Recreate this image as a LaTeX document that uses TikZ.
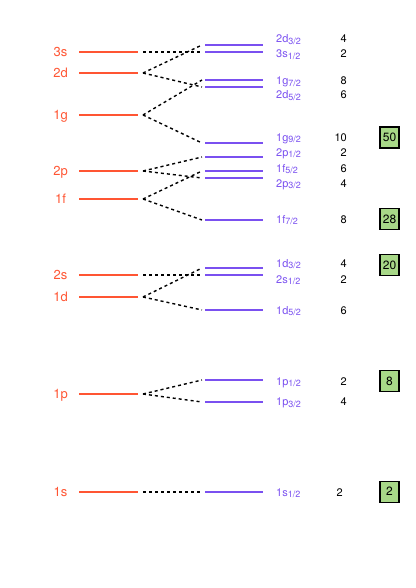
\documentclass[tikz,border=0pt]{standalone}
\usepackage{fontspec}
\setmainfont{TeX Gyre Heros}
\definecolor{ShellRed}{HTML}{FF5533}
\definecolor{ShellBlue}{HTML}{7A50F0}
\definecolor{ShellGreen}{HTML}{A8D888}
\newcommand{\jsub}[1]{\raisebox{-1.3pt}{\fontsize{9}{9}\selectfont #1}}

\begin{document}
\begin{tikzpicture}[x=1pt,y=-1pt,
  redlvl/.style={ShellRed,line width=1.5pt},
  bluelvl/.style={ShellBlue,line width=1.5pt},
  split/.style={black,line width=1.4pt,dash pattern=on 3pt off 3pt},
  redlbl/.style={text=ShellRed,font=\fontsize{13}{13}\selectfont,anchor=base,inner sep=0pt},
  bluelbl/.style={text=ShellBlue,font=\fontsize{11}{11}\selectfont,anchor=base west,inner sep=0pt},
  degen/.style={font=\fontsize{11}{11}\selectfont,anchor=base east,inner sep=0pt},
  magic/.style={draw=black,fill=ShellGreen,line width=1.2pt,minimum width=19pt,
    minimum height=21pt,inner sep=0pt,font=\fontsize{12}{12}\selectfont}]
  \useasboundingbox (0,0) rectangle (415,588);
  \foreach \n/\y in {3s/52,2d/73,1g/115,2p/171,1f/199,2s/275,1d/297,1p/394,1s/492}{
    \draw[redlvl] (79,\y) -- (138,\y);
    \coordinate (r\n) at (143,\y);
    \node[redlbl] (l\n) at (60.5,\y+4.5) {\n};
  }
  \foreach \n/\j/\y/\ly/\g in {2d/3/45/39/4,3s/1/52/54/2,1g/7/80/81/8,2d/5/87/95/6,
      1g/9/143/137.5/10,2p/1/157/152.5/2,1f/5/171/168/6,2p/3/178/183.5/4,1f/7/220/219/8,
      1d/3/268/263.5/4,2s/1/275/279/2,1d/5/310/310/6,1p/1/380/381/2,1p/3/402/401.7/4}{
    \draw[bluelvl] (205,\y) -- (263,\y);
    \coordinate (b\n\j) at (202,\y);
    \node[bluelbl] (t\n\j) at (276,\ly+4) {\n\jsub{\j/2}};
    \node[degen] (g\n\j) at (347,\ly+4) {\g};
  }
  \draw[bluelvl] (205,492) -- (263,492);
  \coordinate (b1s1) at (202,492);
  \node[bluelbl] (t1s1) at (276,496) {1s\jsub{1/2}};
  \node[degen] (g1s1) at (343,496) {2};
  \foreach \a/\b in {3s/3s1,2d/2d3,2d/2d5,1g/1g7,1g/1g9,2p/2p1,2p/2p3,1f/1f5,1f/1f7,
      2s/2s1,1d/1d3,1d/1d5,1p/1p1,1p/1p3,1s/1s1}
    \draw[split] (r\a) -- (b\b);
  \node[magic] (m50) at (389.5,137.5) {50};
  \node[magic] (m28) at (389.5,219) {28};
  \node[magic] (m20) at (389.5,265) {20};
  \node[magic] (m8) at (389.5,381.3) {8};
  \node[magic] (m2) at (389.5,491.7) {2};
\end{tikzpicture}
\end{document}
